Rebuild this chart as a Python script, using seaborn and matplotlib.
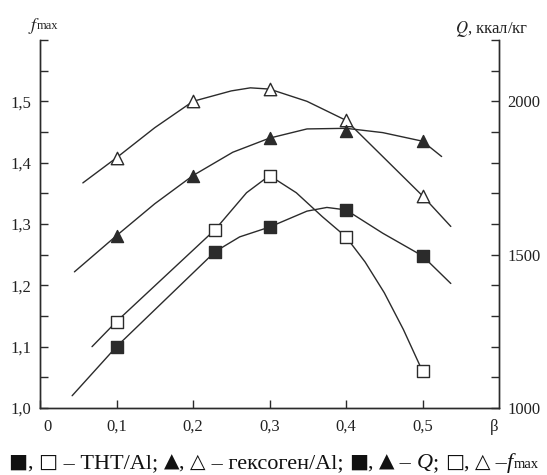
import pandas as pd
import matplotlib.pyplot as plt
import matplotlib.transforms as mtransforms
import seaborn as sns

# --- data ---
beta = [0.1, 0.2, 0.3, 0.4, 0.5]
beta_tnt = [0.1, 0.229, 0.3, 0.4, 0.5]

# f_max (left axis)
fmax_hex = [1.408, 1.500, 1.520, 1.469, 1.346]     # open triangles
fmax_tnt = [1.141, 1.291, 1.379, 1.279, 1.060]     # open squares
# Q, kcal/kg (right axis)
q_hex = [1562, 1758, 1880, 1902, 1870]             # filled triangles
q_tnt = [1200, 1510, 1590, 1646, 1496]             # filled squares

# hand-drawn guide curves
curve_fhex_x = [0.056, 0.1, 0.15, 0.2, 0.25, 0.275, 0.3, 0.349, 0.4, 0.448, 0.5, 0.537]
curve_fhex_y = [1.367, 1.408, 1.457, 1.500, 1.517, 1.522, 1.520, 1.500, 1.469, 1.410, 1.346, 1.296]
curve_ftnt_x = [0.068, 0.1, 0.229, 0.270, 0.3, 0.335, 0.369, 0.4, 0.425, 0.45, 0.475, 0.5]
curve_ftnt_y = [1.100, 1.141, 1.291, 1.351, 1.379, 1.351, 1.312, 1.279, 1.238, 1.188, 1.128, 1.060]
curve_qhex_x = [0.045, 0.1, 0.15, 0.2, 0.252, 0.3, 0.349, 0.4, 0.448, 0.5, 0.525]
curve_qhex_y = [1444, 1562, 1666, 1758, 1834, 1880, 1910, 1912, 1898, 1870, 1820]
curve_qtnt_x = [0.042, 0.1, 0.229, 0.261, 0.3, 0.349, 0.375, 0.4, 0.448, 0.5, 0.537]
curve_qtnt_y = [1040, 1200, 1510, 1558, 1590, 1642, 1654, 1646, 1570, 1496, 1406]

x_ticks = [0, 0.1, 0.2, 0.3, 0.4, 0.5]
x_labels = ['0', '0,1', '0,2', '0,3', '0,4', '0,5']
f_ticks = [1.0, 1.1, 1.2, 1.3, 1.4, 1.5]
f_labels = ['1,0', '1,1', '1,2', '1,3', '1,4', '1,5']
q_ticks = [1000, 1500, 2000]

sns.set_style('ticks')
plt.rcParams['font.family'] = ['Liberation Serif', 'DejaVu Sans']
plt.rcParams['mathtext.fontset'] = 'stix'

ink = '#2b2b2b'
fig = plt.figure(figsize=(5.47, 4.75), dpi=100)
ax = fig.add_axes([40 / 547, 1 - 408 / 475, 459 / 547, 368 / 475])
ax2 = ax.twinx()

line_kw = dict(color=ink, linewidth=1.0, sort=False, estimator=None, legend=False)
sns.lineplot(x=curve_fhex_x, y=curve_fhex_y, ax=ax, **line_kw)
sns.lineplot(x=curve_ftnt_x, y=curve_ftnt_y, ax=ax, **line_kw)
sns.lineplot(x=curve_qhex_x, y=curve_qhex_y, ax=ax2, **line_kw)
sns.lineplot(x=curve_qtnt_x, y=curve_qtnt_y, ax=ax2, **line_kw)

sns.scatterplot(x=beta, y=fmax_hex, ax=ax, marker='^', s=80, color='white',
                edgecolor=ink, linewidth=1.0, zorder=5)
sns.scatterplot(x=beta_tnt, y=fmax_tnt, ax=ax, marker='s', s=75, color='white',
                edgecolor=ink, linewidth=1.0, zorder=5)
sns.scatterplot(x=beta, y=q_hex, ax=ax2, marker='^', s=75, color=ink,
                edgecolor=ink, linewidth=1.0, zorder=5)
sns.scatterplot(x=beta_tnt, y=q_tnt, ax=ax2, marker='s', s=75, color=ink,
                edgecolor=ink, linewidth=1.0, zorder=5)

ax.set_xlim(0, 0.6)
ax.set_ylim(1.0, 1.6)
ax2.set_ylim(1000, 2200)

ax.set_xticks(x_ticks)
ax.set_xticklabels(x_labels)
ax.set_yticks(f_ticks)
ax.set_yticklabels(f_labels)
ax.set_yticks([1.05, 1.15, 1.25, 1.35, 1.45, 1.55, 1.6], minor=True)
ax2.set_yticks(q_ticks)
ax2.set_yticks([1100, 1200, 1300, 1400, 1600, 1700, 1800, 1900, 2100, 2200], minor=True)

for a in (ax, ax2):
    a.spines['top'].set_visible(False)
    for s in a.spines.values():
        s.set_color(ink)
        s.set_linewidth(1.0)
    a.tick_params(which='both', direction='in', length=6, width=1.0, color=ink,
                  labelsize=12, labelcolor='#222222')
    a.set_xlabel('')
    a.set_ylabel('')
ax.tick_params(axis='x', pad=8)
ax.tick_params(axis='y', pad=6)
ax2.tick_params(axis='y', pad=6)
ax.patch.set_visible(False)

# shift the "0" label a little right of the axis corner
lbl0 = ax.get_xticklabels()[0]
lbl0.set_transform(lbl0.get_transform() + mtransforms.ScaledTranslation(7 / 100, 0, fig.dpi_scale_trans))

ax.annotate('β', xy=(0.593, 0), xycoords=('data', 'axes fraction'),
            xytext=(0, -8), textcoords='offset points', ha='center', va='top',
            fontsize=12, color='#222222')

fig.text(28 / 547, 1 - 30 / 475, '$f$', fontsize=13, color='#222222')
fig.text(37 / 547, 1 - 29 / 475, 'max', fontsize=9, color='#222222')
fig.text(455 / 547, 1 - 33 / 475, '$Q$, ккал/кг', fontsize=12, color='#222222')

# caption built from pieces so the symbols can use DejaVu Sans
sym = ['DejaVu Sans']
txt_font = ['Liberation Serif', 'DejaVu Sans']
cap_pieces = [('■', 14.5, 'normal', sym), (', ', 16, 'normal', txt_font),
              ('□', 14.5, 'normal', sym), (' – ТНТ/Al; ', 16, 'normal', txt_font),
              ('▲', 14.5, 'normal', sym), (', ', 16, 'normal', txt_font),
              ('△', 14.5, 'normal', sym), (' – гексоген/Al; ', 16, 'normal', txt_font),
              ('■', 14.5, 'normal', sym), (', ', 16, 'normal', txt_font),
              ('▲', 14.5, 'normal', sym), (' – ', 16, 'normal', txt_font),
              ('Q', 16, 'italic', txt_font), ('; ', 16, 'normal', txt_font),
              ('□', 14.5, 'normal', sym), (', ', 16, 'normal', txt_font),
              ('△', 14.5, 'normal', sym), (' –', 16, 'normal', txt_font),
              ('f', 16, 'italic', txt_font), ('max', 10.5, 'normal', txt_font)]
renderer = fig.canvas.get_renderer()
cap_texts = []
x = 0
for txt, size, style, fam in cap_pieces:
    t = fig.text(0, 0, txt, fontsize=size, style=style, family=fam,
                 color='#111111', va='baseline', ha='left')
    w = t.get_window_extent(renderer).width
    cap_texts.append((t, x))
    x += w
start = (547 - x) / 2
for t, off in cap_texts:
    t.set_position(((start + off) / 547, 1 - 468 / 475))

fig.savefig('out.png', dpi=100, facecolor='white')
